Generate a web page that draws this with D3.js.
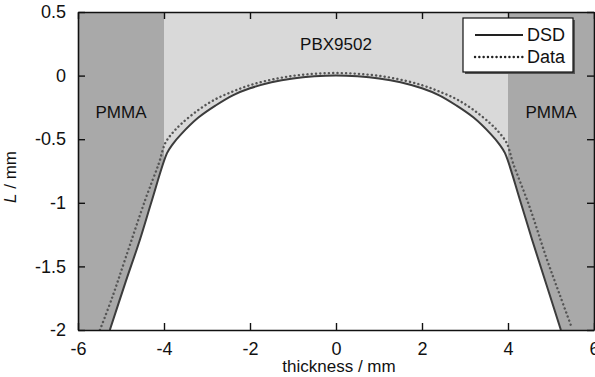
<!DOCTYPE html>
<html>
<head>
<meta charset="utf-8">
<script src="https://cdn.jsdelivr.net/npm/d3@7"></script>
<style>
  body { margin: 0; background: #fff; }
  text { font-family: "Liberation Sans Narrow", "Arial Narrow", "Liberation Sans", sans-serif; fill: #111; }
</style>
</head>
<body>
<div id="chart"></div>
<script>
// DSD model (solid) and experimental data (dotted)
var dsdT = [-5.26, -4.9, -4.56, -4.28, -3.93, -3.8, -3.6, -3.2, -2.8, -2.4, -2.0, -1.5, -1.0, -0.5, 0, 0.5, 1.0, 1.5, 2.0, 2.4, 2.8, 3.2, 3.6, 3.8, 3.93, 4.28, 4.56, 4.9, 5.23];
var dsdL = [-2, -1.63, -1.29, -0.98, -0.61, -0.54, -0.46, -0.33, -0.235, -0.155, -0.1, -0.052, -0.022, -0.006, 0, -0.006, -0.022, -0.052, -0.1, -0.155, -0.235, -0.33, -0.46, -0.54, -0.61, -0.98, -1.29, -1.65, -2];

var dataT = [-5.49, -5.2, -4.9, -4.44, -4.12, -3.97, -3.8, -3.6, -3.2, -2.8, -2.4, -2.0, -1.5, -1.0, -0.5, 0, 0.5, 1.0, 1.5, 2.0, 2.4, 2.8, 3.2, 3.6, 3.8, 3.97, 4.12, 4.5, 4.9, 5.2, 5.47];
var dataL = [-2, -1.74, -1.44, -0.98, -0.69, -0.53, -0.45, -0.38, -0.27, -0.185, -0.125, -0.075, -0.032, -0.002, 0.014, 0.02, 0.014, -0.002, -0.032, -0.075, -0.125, -0.185, -0.27, -0.38, -0.45, -0.53, -0.69, -1.03, -1.44, -1.72, -1.97];

// material regions
var regions = [
  {name: "PMMA", x0: -6, x1: -4, color: "#a9a9a9", labelY: -0.33},
  {name: "PBX9502", x0: -4, x1: 4, color: "#d9d9d9", labelY: 0.2},
  {name: "PMMA", x0: 4, x1: 6, color: "#a9a9a9", labelY: -0.33}
];

var xTicks = [-6, -4, -2, 0, 2, 4, 6];
var yTicks = [0.5, 0, -0.5, -1, -1.5, -2];

var margin = {top: 12, right: 1, bottom: 47, left: 78},
    width = 595 - margin.left - margin.right,
    height = 377 - margin.top - margin.bottom;

var x = d3.scaleLinear().domain([-6, 6]).range([0, width]);
var y = d3.scaleLinear().domain([-2, 0.5]).range([height, 0]);

var svg = d3.select("#chart").append("svg")
    .attr("width", 595)
    .attr("height", 377);

var g = svg.append("g")
    .attr("transform", "translate(" + margin.left + "," + margin.top + ")");

g.append("clipPath").attr("id", "clip")
  .append("rect").attr("width", width).attr("height", height);

var plot = g.append("g").attr("clip-path", "url(#clip)");

plot.selectAll(".region")
    .data(regions).enter()
    .append("rect")
    .attr("class", "region")
    .attr("x", d => x(d.x0))
    .attr("y", 0)
    .attr("width", d => x(d.x1) - x(d.x0))
    .attr("height", height)
    .style("fill", d => d.color);

var dsd = dsdT.map((t, i) => ({t: t, L: dsdL[i]}));
var data = dataT.map((t, i) => ({t: t, L: dataL[i]}));

// inside of the charge (below the DSD front) is white
var area = d3.area()
    .x(d => x(d.t))
    .y0(height)
    .y1(d => y(d.L))
    .curve(d3.curveCatmullRom.alpha(0.5));

plot.append("path")
    .datum(dsd)
    .attr("d", area)
    .style("fill", "#fff");

var line = d3.line()
    .x(d => x(d.t))
    .y(d => y(d.L))
    .curve(d3.curveCatmullRom.alpha(0.5));

plot.append("path")
    .datum(dsd)
    .attr("d", line)
    .style("fill", "none")
    .style("stroke", "#3c3c3c")
    .style("stroke-width", 2);

plot.append("path")
    .datum(data)
    .attr("d", line)
    .style("fill", "none")
    .style("stroke", "#555")
    .style("stroke-width", 2.4)
    .style("stroke-linecap", "round")
    .style("stroke-dasharray", "0.1,4.2");

g.selectAll(".rlabel")
    .data(regions).enter()
    .append("text")
    .attr("class", "rlabel")
    .attr("x", d => x((d.x0 + d.x1) / 2))
    .attr("y", d => y(d.labelY))
    .attr("text-anchor", "middle")
    .style("font-size", "17px")
    .text(d => d.name);

// axes, ticks point inward, mirrored on top and right
var fmt = d => String(d);
var xAxisB = d3.axisBottom(x).tickValues(xTicks).tickFormat(fmt).tickSizeInner(-7).tickSizeOuter(0).tickPadding(12);
var xAxisT = d3.axisTop(x).tickValues(xTicks).tickSizeInner(-7).tickSizeOuter(0).tickFormat("");
var yAxisL = d3.axisLeft(y).tickValues(yTicks).tickFormat(fmt).tickSizeInner(-7).tickSizeOuter(0).tickPadding(12);
var yAxisR = d3.axisRight(y).tickValues(yTicks).tickSizeInner(-7).tickSizeOuter(0).tickFormat("");

function styleAxis(sel) {
  sel.select(".domain").style("stroke", "#111").style("stroke-width", 1.6);
  sel.selectAll(".tick line").style("stroke", "#111").style("stroke-width", 1.4);
  sel.selectAll(".tick text").style("font-size", "18px").style("fill", "#111")
     .style("font-family", "'Liberation Sans Narrow', 'Arial Narrow', sans-serif");
}

g.append("g").attr("transform", "translate(0," + height + ")").call(xAxisB).call(styleAxis);
g.append("g").call(xAxisT).call(styleAxis);
g.append("g").call(yAxisL).call(styleAxis);
g.append("g").attr("transform", "translate(" + width + ",0)").call(yAxisR).call(styleAxis);

// axis titles
g.append("text")
    .attr("x", width / 2 + 3)
    .attr("y", height + 42)
    .attr("text-anchor", "middle")
    .style("font-size", "17px")
    .text("thickness / mm");

var yl = g.append("text")
    .attr("transform", "translate(" + (-62) + "," + (height / 2 + 6) + ") rotate(-90)")
    .attr("text-anchor", "middle")
    .style("font-size", "17px");
yl.append("tspan").style("font-style", "italic").text("L");
yl.append("tspan").text(" / mm");

// legend
var legend = svg.append("g").attr("transform", "translate(463,18)");
legend.append("rect")
    .attr("x", 2).attr("y", 2).attr("width", 110).attr("height", 54)
    .style("fill", "#555");
legend.append("rect")
    .attr("width", 110).attr("height", 54)
    .style("fill", "#fff")
    .style("stroke", "#111")
    .style("stroke-width", 1.2);

var legendItems = [
  {name: "DSD", dash: null, w: 2.2, cap: "butt"},
  {name: "Data", dash: "0.1,4.2", w: 2.4, cap: "round"}
];
var li = legend.selectAll(".li").data(legendItems).enter()
    .append("g").attr("transform", (d, i) => "translate(0," + (17 + i * 22) + ")");
li.append("line")
    .attr("x1", 12).attr("x2", 60)
    .style("stroke", "#222")
    .style("stroke-width", d => d.w)
    .style("stroke-linecap", d => d.cap)
    .style("stroke-dasharray", d => d.dash);
li.append("text")
    .attr("x", 64).attr("dy", "0.35em")
    .style("font-size", "18px")
    .text(d => d.name);
</script>
</body>
</html>
